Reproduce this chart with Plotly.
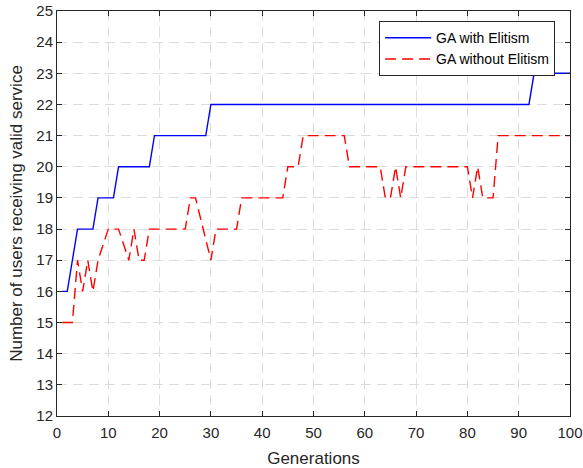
import plotly.graph_objects as go

# Data (generation, users receiving valid service)
gen_elite = [1, 2, 4, 7, 8, 11, 12, 18, 19, 29, 30, 92, 93, 100]
val_elite = [16, 16, 18, 18, 19, 19, 20, 20, 21, 21, 22, 22, 23, 23]

gen_plain = [1, 3, 4, 5, 6, 7, 8, 10, 12, 14, 15, 16, 17, 18, 25, 26, 27, 30, 31, 35,
             36, 44, 45, 47, 48, 56, 57, 63, 64, 65, 66, 67, 68, 80, 81, 82, 83, 85, 86, 100]
val_plain = [15, 15, 17, 16, 17, 16, 17, 18, 18, 17, 18, 17, 17, 18, 18, 19, 19, 17, 18, 18,
             19, 19, 20, 20, 21, 21, 20, 20, 19, 19, 20, 19, 20, 20, 19, 20, 19, 19, 21, 21]

x_ticks = list(range(0, 101, 10))
y_ticks = list(range(12, 26))

FONT = "Liberation Sans, Arial, Helvetica, sans-serif"
AX = "#262626"

fig = go.Figure()
fig.add_trace(go.Scatter(x=gen_elite, y=val_elite, mode="lines", name="GA with Elitism",
                         line=dict(color="#0000FF", width=1.4)))
fig.add_trace(go.Scatter(x=gen_plain, y=val_plain, mode="lines", name="GA without Elitism",
                         line=dict(color="#FF0000", width=1.4, dash="11px,6px")))

axis_common = dict(showline=True, linecolor=AX, linewidth=1, mirror="ticks",
                   ticks="inside", ticklen=5, tickcolor=AX, tickwidth=1,
                   showgrid=True, gridcolor="#dcdcdc", gridwidth=1, griddash="10px,6px",
                   zeroline=False, automargin=False,
                   tickfont=dict(family=FONT, size=15, color=AX))

fig.update_xaxes(range=[0, 100], tickvals=x_ticks, ticktext=[str(v) for v in x_ticks],
                 ticklabelstandoff=3,
                 title=dict(text="Generations", font=dict(family=FONT, size=17, color=AX), standoff=14),
                 **axis_common)
fig.update_yaxes(range=[12, 25], tickvals=y_ticks, ticktext=[str(v) for v in y_ticks],
                 title=dict(text="Number of users receiving valid service",
                            font=dict(family=FONT, size=17, color=AX), standoff=9),
                 **axis_common)

fig.update_layout(
    width=583, height=468,
    margin=dict(l=57, r=13, t=11, b=52),
    paper_bgcolor="white", plot_bgcolor="white",
    font=dict(family=FONT, color=AX),
    legend=dict(x=0.971, y=0.975, xanchor="right", yanchor="top",
                bgcolor="white", bordercolor=AX, borderwidth=1,
                font=dict(family=FONT, size=14, color="black"),
                itemwidth=46, tracegroupgap=0),
    showlegend=True,
)

fig.write_html("out.html")
